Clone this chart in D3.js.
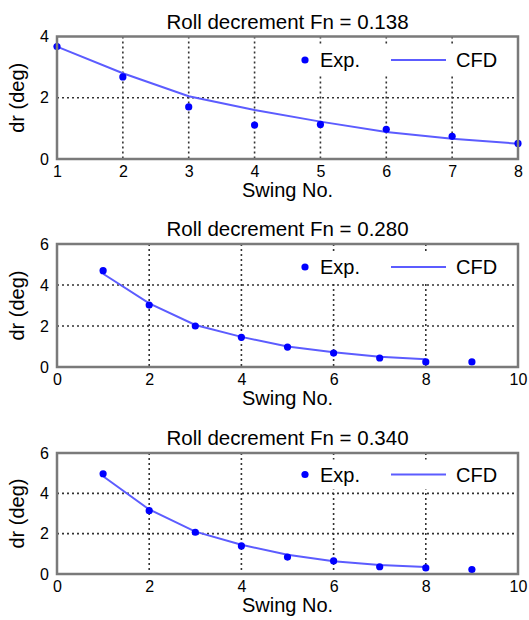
<!DOCTYPE html>
<html><head><meta charset="utf-8">
<script src="https://cdn.jsdelivr.net/npm/d3@7"></script>
<style>body{margin:0;background:#fff;}svg{display:block;font-family:"Liberation Sans",Arial,sans-serif;}</style>
</head><body>
<svg id="c" width="529" height="620"></svg>
<script>
// ---- data ----
const titles = ["Roll decrement Fn = 0.138", "Roll decrement Fn = 0.280", "Roll decrement Fn = 0.340"];
const xLabel = "Swing No.";
const yLabel = "dr (deg)";
const legendLabels = ["Exp.", "CFD"];

const expX1 = [1, 2, 3, 4, 5, 6, 7, 8];
const expY1 = [3.67, 2.68, 1.70, 1.11, 1.13, 0.97, 0.74, 0.51];
const cfdX1 = [1, 2, 3, 4, 5, 6, 7, 8];
const cfdY1 = [3.67, 2.80, 2.05, 1.60, 1.22, 0.88, 0.66, 0.50];

const expX2 = [1, 2, 3, 4, 5, 6, 7, 8, 9];
const expY2 = [4.70, 3.02, 2.00, 1.45, 0.97, 0.68, 0.44, 0.25, 0.25];
const cfdX2 = [1, 2, 3, 4, 5, 6, 7, 8];
const cfdY2 = [4.55, 3.10, 2.05, 1.47, 1.00, 0.72, 0.50, 0.38];

const expX3 = [1, 2, 3, 4, 5, 6, 7, 8, 9];
const expY3 = [4.97, 3.14, 2.07, 1.39, 0.84, 0.65, 0.36, 0.30, 0.22];
const cfdX3 = [1, 2, 3, 4, 5, 6, 7, 8];
const cfdY3 = [4.85, 3.20, 2.10, 1.45, 0.95, 0.63, 0.45, 0.35];

const xTicks1 = [1, 2, 3, 4, 5, 6, 7, 8];
const yTicks1 = [0, 2, 4];
const xTicks23 = [0, 2, 4, 6, 8, 10];
const yTicks23 = [0, 2, 4, 6];

const panels = [
  {title: titles[0], xd: [1, 8], yd: [0, 4], xt: xTicks1, yt: yTicks1, ex: expX1, ey: expY1, cx: cfdX1, cy: cfdY1, top: 36.5, bottom: 159, legOff: 23.5},
  {title: titles[1], xd: [0, 10], yd: [0, 6], xt: xTicks23, yt: yTicks23, ex: expX2, ey: expY2, cx: cfdX2, cy: cfdY2, top: 244, bottom: 367, legOff: 23},
  {title: titles[2], xd: [0, 10], yd: [0, 6], xt: xTicks23, yt: yTicks23, ex: expX3, ey: expY3, cx: cfdX3, cy: cfdY3, top: 453, bottom: 574, legOff: 21.5}
];

const svg = d3.select("#c");
const L = 57, R = 518;
const lineColor = "#5c5cff", dotColor = "#0000ff", frameColor = "#7a7a7a", gridColor = "#333";

panels.forEach(p => {
  const x = d3.scaleLinear().domain(p.xd).range([L, R]);
  const y = d3.scaleLinear().domain(p.yd).range([p.bottom, p.top]);
  const g = svg.append("g");

  // grid
  g.selectAll(".gx").data(p.xt.filter(t => t > p.xd[0] && t < p.xd[1])).join("line")
    .attr("x1", d => x(d)).attr("x2", d => x(d)).attr("y1", p.top).attr("y2", p.bottom)
    .attr("stroke", gridColor).attr("stroke-width", 1.6).attr("stroke-dasharray", "2,3");
  g.selectAll(".gy").data(p.yt.filter(t => t > p.yd[0] && t < p.yd[1])).join("line")
    .attr("x1", L).attr("x2", R).attr("y1", d => y(d)).attr("y2", d => y(d))
    .attr("stroke", gridColor).attr("stroke-width", 1.6).attr("stroke-dasharray", "2,3");

  // legend background (white box, no border)
  const ly = p.top + p.legOff;
  g.append("rect").attr("x", 292).attr("y", ly - 15).attr("width", R - 1 - 292).attr("height", 30).attr("fill", "#fff");

  // CFD line
  const cfd = p.cx.map((v, i) => [v, p.cy[i]]);
  g.append("path").datum(cfd)
    .attr("d", d3.line().x(d => x(d[0])).y(d => y(d[1])))
    .attr("fill", "none").attr("stroke", lineColor).attr("stroke-width", 2);

  // Exp dots
  const ex = p.ex.map((v, i) => [v, p.ey[i]]);
  g.selectAll(".dot").data(ex).join("circle")
    .attr("cx", d => x(d[0])).attr("cy", d => y(d[1])).attr("r", 3.6).attr("fill", dotColor);

  // frame
  g.append("rect").attr("x", L).attr("y", p.top).attr("width", R - L).attr("height", p.bottom - p.top)
    .attr("fill", "none").attr("stroke", frameColor).attr("stroke-width", 2.5);

  // axes tick labels
  const xa = d3.axisBottom(x).tickValues(p.xt).tickSize(0).tickPadding(0).tickFormat(d3.format("d"));
  const xg = g.append("g").attr("transform", `translate(0,${p.bottom + 7})`).call(xa);
  xg.select(".domain").remove();
  xg.selectAll("text").attr("font-size", 16).attr("fill", "#000").attr("dy", "0.71em").attr("font-family", "Liberation Sans, Arial, sans-serif");

  const ya = d3.axisLeft(y).tickValues(p.yt).tickSize(0).tickPadding(0).tickFormat(d3.format("d"));
  const yg = g.append("g").attr("transform", `translate(${L - 8},0)`).call(ya);
  yg.select(".domain").remove();
  yg.selectAll("text").attr("font-size", 16).attr("fill", "#000").attr("font-family", "Liberation Sans, Arial, sans-serif");

  // title
  g.append("text").attr("x", (L + R) / 2).attr("y", p.top - 8).attr("text-anchor", "middle")
    .attr("font-size", 20.5).text(p.title);
  // x label
  g.append("text").attr("x", (L + R) / 2).attr("y", p.bottom + 38).attr("text-anchor", "middle")
    .attr("font-size", 20).text(xLabel);
  // y label
  g.append("text").attr("transform", `translate(24,${(p.top + p.bottom) / 2}) rotate(-90)`)
    .attr("text-anchor", "middle").attr("font-size", 20).text(yLabel);

  // legend
  g.append("circle").attr("cx", 305).attr("cy", ly).attr("r", 3.6).attr("fill", dotColor);
  g.append("text").attr("x", 320).attr("y", ly).attr("dy", "0.35em").attr("font-size", 20).text(legendLabels[0]);
  g.append("line").attr("x1", 391).attr("x2", 446).attr("y1", ly).attr("y2", ly)
    .attr("stroke", lineColor).attr("stroke-width", 2);
  g.append("text").attr("x", 456).attr("y", ly).attr("dy", "0.35em").attr("font-size", 20).text(legendLabels[1]);
});
</script>
</body></html>
